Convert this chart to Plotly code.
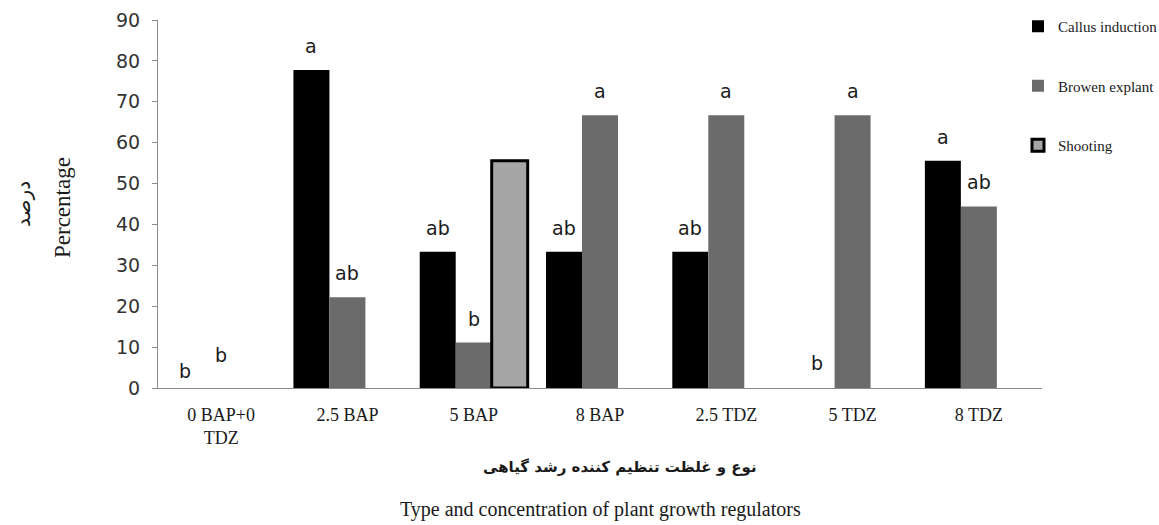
import plotly.graph_objects as go

categories = ["0 BAP+0<br>TDZ", "2.5 BAP", "5 BAP", "8 BAP", "2.5 TDZ", "5 TDZ", "8 TDZ"]
callus = [0, 77.8, 33.3, 33.3, 33.3, 0, 55.6]
browen = [0, 22.2, 11.1, 66.7, 66.7, 66.7, 44.4]
shooting = [0, 0, 55.6, 0, 0, 0, 0]
callus_letters = ["b", "a", "ab", "ab", "ab", "b", "a"]
browen_letters = ["b", "ab", "b", "a", "a", "a", "ab"]
y_ticks = [0, 10, 20, 30, 40, 50, 60, 70, 80, 90]

W, H = 1159, 525
ML, MR, MT, MB = 158, 117, 20, 137
PW = W - ML - MR
PH = H - MT - MB
BARGAP = 0.145
cat_px = PW / len(categories)
bar_px = cat_px * (1 - BARGAP) / 3

fig = go.Figure()
fig.add_trace(go.Bar(name="Callus induction", x=categories, y=callus,
                     marker=dict(color="#000000", line=dict(width=0)),
                     legendgroup="c"))
fig.add_trace(go.Bar(name="Browen explant", x=categories, y=browen,
                     marker=dict(color="#6b6b6b", line=dict(width=0)),
                     legendgroup="b"))
fig.add_trace(go.Bar(name="Shooting", x=categories,
                     y=[v if v > 0 else None for v in shooting],
                     marker=dict(color="#a6a6a6", line=dict(color="#000000", width=3)),
                     legendgroup="s"))

lift_override = {(0, 0): 4, (1, 0): 20, (0, 5): 12}
annotations = []
for s, (vals, letters) in enumerate([(callus, callus_letters), (browen, browen_letters)]):
    for i, (v, t) in enumerate(zip(vals, letters)):
        annotations.append(dict(
            x=categories[i], y=v, xref="x", yref="y", text=t, showarrow=False,
            xshift=(s - 1) * bar_px, yanchor="bottom",
            yshift=lift_override.get((s, i), 11),
            font=dict(family="DejaVu Sans", size=19, color="#1a1a1a")))

def px_x(p):
    return (p - ML) / PW

def px_y(p):
    return (MT + PH - p) / PH

annotations += [
    dict(text="Percentage", x=px_x(62), y=px_y(208), xref="paper", yref="paper",
         textangle=-90, showarrow=False, xanchor="center", yanchor="middle",
         font=dict(family="Liberation Serif", size=23, color="#1a1a1a")),
    dict(text="درصد", x=px_x(23), y=px_y(204), xref="paper", yref="paper",
         textangle=-90, showarrow=False, xanchor="center", yanchor="middle",
         font=dict(family="DejaVu Sans", size=20, color="#1a1a1a")),
    dict(text="<b>نوع و غلظت تنظیم کننده رشد گیاهی</b>", x=px_x(620), y=px_y(467),
         xref="paper", yref="paper", showarrow=False, xanchor="center", yanchor="middle",
         font=dict(family="DejaVu Sans", size=15, color="#1a1a1a")),
    dict(text="Type and concentration of plant growth regulators", x=px_x(600), y=px_y(509),
         xref="paper", yref="paper", showarrow=False, xanchor="center", yanchor="middle",
         font=dict(family="Liberation Serif", size=20, color="#1a1a1a")),
]

fig.update_layout(
    width=W, height=H,
    margin=dict(l=ML, r=MR, t=MT, b=MB, autoexpand=False),
    paper_bgcolor="white", plot_bgcolor="white",
    barmode="group", bargap=BARGAP, bargroupgap=0,
    showlegend=True,
    legend=dict(x=px_x(1018), y=px_y(10), xanchor="left", yanchor="top",
                tracegroupgap=37, bgcolor="rgba(0,0,0,0)",
                font=dict(family="Liberation Serif", size=15, color="#1a1a1a")),
    annotations=annotations,
    xaxis=dict(showline=True, linecolor="#8c8c8c", linewidth=1, ticks="",
               ticklabelstandoff=10,
               tickfont=dict(family="Liberation Serif", size=18, color="#1a1a1a"),
               showgrid=False, zeroline=False),
    yaxis=dict(range=[0, 90], tickvals=y_ticks, showline=True, linecolor="#8c8c8c",
               linewidth=1, ticks="outside", ticklen=5, tickcolor="#8c8c8c",
               ticklabelstandoff=8,
               tickfont=dict(family="DejaVu Sans", size=19, color="#333333"),
               showgrid=False, zeroline=False),
)

fig.write_html("out.html", config={"displayModeBar": False},
               post_script="document.body.style.margin='0px';")
